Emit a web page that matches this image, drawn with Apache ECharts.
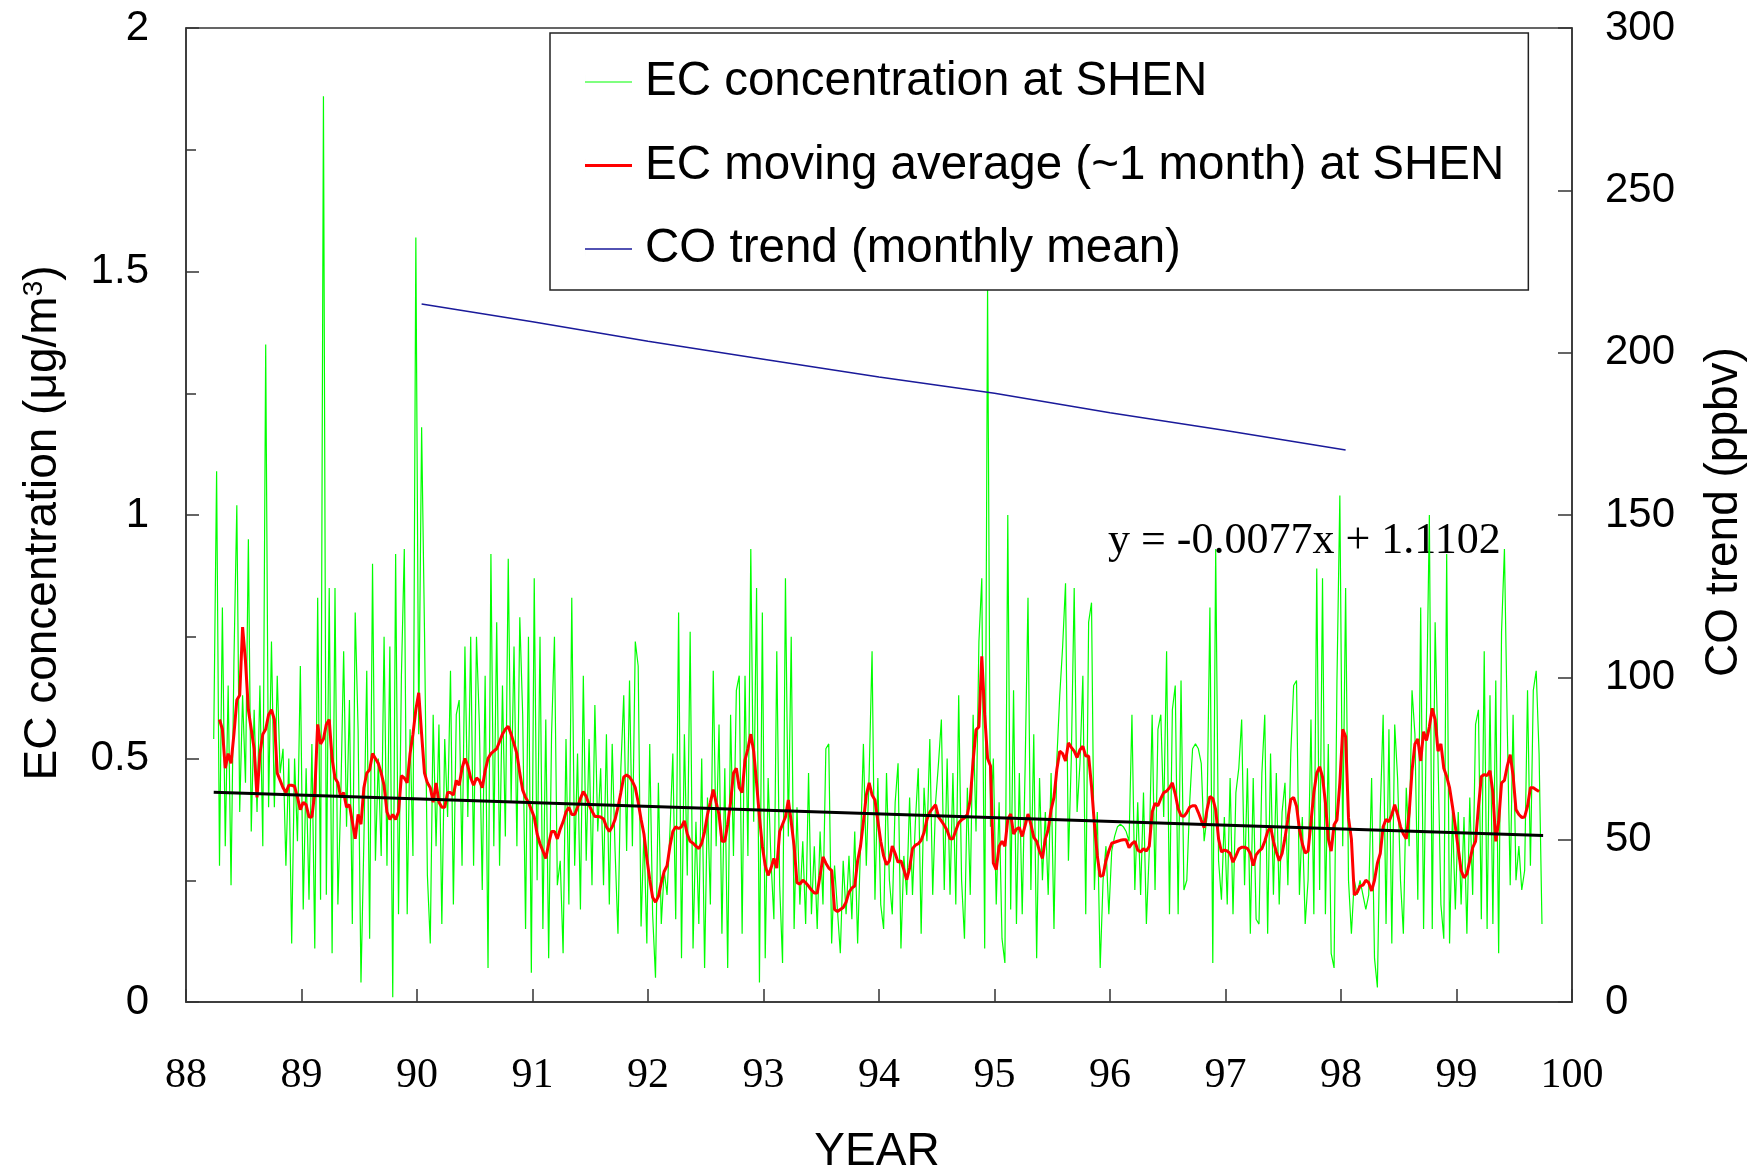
<!DOCTYPE html>
<html>
<head>
<meta charset="utf-8">
<script src="https://cdn.jsdelivr.net/npm/echarts@6/dist/echarts.min.js"></script>
<style>
  html, body { margin: 0; padding: 0; background: #fff; }
  #chart { width: 1763px; height: 1173px; }
</style>
</head>
<body>
<div id="chart"></div>
<script>
// EC samples at SHEN, one value every sampleStep years from ecStartYear (µg/m3)
const ecStartYear = 88.24;
const sampleStep = 0.025;
const ecConcentration = [
  0.54, 1.09, 0.28, 0.81, 0.32, 0.65, 0.24, 0.7, 1.02, 0.39,
  0.63, 0.45, 0.95, 0.35, 0.6, 0.39, 0.65, 0.32, 1.35, 0.4,
  0.74, 0.4, 0.67, 0.47, 0.52, 0.28, 0.5, 0.12, 0.5, 0.33,
  0.69, 0.19, 0.48, 0.21, 0.53, 0.11, 0.83, 0.21, 1.86, 0.22,
  0.85, 0.1, 0.85, 0.2, 0.42, 0.72, 0.36, 0.62, 0.16, 0.8,
  0.56, 0.04, 0.33, 0.68, 0.13, 0.9, 0.29, 0.5, 0.3, 0.75,
  0.28, 0.73, 0.01, 0.92, 0.18, 0.67, 0.93, 0.18, 0.56, 0.3,
  1.57, 0.55, 1.18, 0.76, 0.26, 0.12, 0.59, 0.32, 0.57, 0.16,
  0.54, 0.38, 0.68, 0.2, 0.59, 0.62, 0.28, 0.73, 0.38, 0.75,
  0.28, 0.75, 0.57, 0.23, 0.67, 0.07, 0.92, 0.32, 0.78, 0.28,
  0.65, 0.34, 0.91, 0.41, 0.73, 0.32, 0.79, 0.59, 0.15, 0.75,
  0.06, 0.87, 0.25, 0.75, 0.15, 0.58, 0.09, 0.55, 0.75, 0.24,
  0.29, 0.1, 0.54, 0.2, 0.83, 0.28, 0.51, 0.19, 0.67, 0.29,
  0.54, 0.24, 0.61, 0.35, 0.48, 0.24, 0.55, 0.2, 0.53, 0.31,
  0.14, 0.48, 0.63, 0.31, 0.66, 0.32, 0.74, 0.69, 0.155, 0.35,
  0.12, 0.53, 0.18, 0.05, 0.45, 0.16, 0.27, 0.22, 0.35, 0.51,
  0.17, 0.8, 0.09, 0.55, 0.26, 0.76, 0.11, 0.37, 0.16, 0.5,
  0.07, 0.42, 0.2, 0.68, 0.32, 0.57, 0.14, 0.48, 0.07, 0.59,
  0.3, 0.64, 0.67, 0.14, 0.67, 0.3, 0.93, 0.37, 0.85, 0.04,
  0.8, 0.09, 0.46, 0.29, 0.17, 0.72, 0.24, 0.08, 0.87, 0.34,
  0.75, 0.15, 0.4, 0.2, 0.33, 0.16, 0.47, 0.18, 0.32, 0.15,
  0.35, 0.2, 0.52, 0.53, 0.12, 0.28, 0.19, 0.1, 0.29, 0.18,
  0.3, 0.17, 0.35, 0.12, 0.32, 0.53, 0.28, 0.47, 0.72, 0.21,
  0.46, 0.2, 0.15, 0.47, 0.25, 0.18, 0.41, 0.49, 0.11, 0.3,
  0.22, 0.42, 0.22, 0.37, 0.48, 0.14, 0.44, 0.33, 0.54, 0.22,
  0.41, 0.49, 0.58, 0.23, 0.5, 0.22, 0.47, 0.2, 0.63, 0.25,
  0.13, 0.44, 0.22, 0.59, 0.35, 0.74, 0.87, 0.11, 1.47, 0.36,
  0.5, 0.2, 0.41, 0.13, 0.08, 1.0, 0.19, 0.64, 0.16, 0.47,
  0.18, 0.48, 0.83, 0.23, 0.55, 0.09, 0.46, 0.25, 0.39, 0.22,
  0.47, 0.15, 0.5, 0.63, 0.73, 0.86, 0.29, 0.5, 0.85, 0.39,
  0.49, 0.67, 0.18, 0.78, 0.82, 0.23, 0.39, 0.07, 0.25, 0.32,
  0.18, 0.31, 0.34, 0.36, 0.365, 0.36, 0.35, 0.33, 0.59, 0.23,
  0.41, 0.22, 0.43, 0.16, 0.31, 0.59, 0.23, 0.56, 0.59, 0.38,
  0.72, 0.18, 0.6, 0.65, 0.18, 0.66, 0.23, 0.25, 0.41, 0.52,
  0.53, 0.52, 0.49, 0.33, 0.38, 0.81, 0.08, 0.93, 0.29, 0.21,
  0.38, 0.2, 0.46, 0.18, 0.43, 0.48, 0.58, 0.24, 0.48, 0.14,
  0.46, 0.17, 0.16, 0.47, 0.59, 0.14, 0.51, 0.22, 0.47, 0.2,
  0.39, 0.45, 0.24, 0.51, 0.65, 0.66, 0.22, 0.38, 0.16, 0.25,
  0.58, 0.18, 0.89, 0.23, 0.87, 0.18, 0.53, 0.1, 0.07, 0.66,
  1.04, 0.32, 0.85, 0.25, 0.14, 0.25, 0.22, 0.25, 0.22, 0.19,
  0.22, 0.46, 0.09, 0.03, 0.39, 0.59, 0.16, 0.56, 0.12, 0.57,
  0.46, 0.25, 0.14, 0.44, 0.32, 0.64, 0.55, 0.21, 0.81, 0.15,
  0.59, 1.0, 0.15, 0.78, 0.5, 0.2, 0.13, 0.92, 0.12, 0.39,
  0.19, 0.39, 0.2, 0.38, 0.14, 0.42, 0.22, 0.57, 0.6, 0.17,
  0.72, 0.15, 0.63, 0.16, 0.66, 0.1, 0.76, 0.93, 0.56, 0.24,
  0.59, 0.25, 0.32, 0.23, 0.27, 0.64, 0.28, 0.64, 0.68, 0.51,
  0.16
];

// ~1 month moving average, same spacing, starting at maStartYear
const maStartYear = 88.29;
const ecMovingAverage = [
  0.58, 0.56, 0.48, 0.51, 0.49, 0.55, 0.62, 0.63, 0.77, 0.7,
  0.6, 0.56, 0.52, 0.42, 0.51, 0.55, 0.56, 0.59, 0.6, 0.58,
  0.47, 0.455, 0.44, 0.43, 0.445, 0.445, 0.443, 0.42, 0.395, 0.41,
  0.405, 0.38, 0.38, 0.43, 0.57, 0.53, 0.54, 0.57, 0.58, 0.5,
  0.46, 0.45, 0.42, 0.43, 0.4, 0.405, 0.37, 0.335, 0.385, 0.365,
  0.44, 0.47, 0.477, 0.51, 0.5, 0.49, 0.47, 0.445, 0.39, 0.375,
  0.385, 0.375, 0.39, 0.465, 0.46, 0.45, 0.51, 0.55, 0.6, 0.635,
  0.55, 0.47, 0.45, 0.44, 0.41, 0.45, 0.41, 0.4, 0.4, 0.43,
  0.43, 0.425, 0.455, 0.445, 0.48, 0.5, 0.485, 0.46, 0.445, 0.46,
  0.455, 0.44, 0.475, 0.5, 0.51, 0.515, 0.52, 0.535, 0.55, 0.56,
  0.566, 0.55, 0.53, 0.51, 0.47, 0.435, 0.42, 0.41, 0.395, 0.38,
  0.345, 0.325, 0.31, 0.295, 0.325, 0.35, 0.35, 0.335, 0.355, 0.37,
  0.39, 0.4, 0.385, 0.385, 0.4, 0.418, 0.432, 0.422, 0.405, 0.392,
  0.381, 0.381, 0.38, 0.376, 0.36, 0.35, 0.36, 0.375, 0.4, 0.43,
  0.462, 0.466, 0.462, 0.453, 0.44, 0.41, 0.375, 0.345, 0.295, 0.252,
  0.215, 0.205, 0.217, 0.245, 0.268, 0.28, 0.32, 0.35, 0.36, 0.356,
  0.36, 0.372, 0.345, 0.33, 0.326, 0.32, 0.315, 0.326, 0.35, 0.385,
  0.41, 0.436, 0.41, 0.385, 0.33, 0.33, 0.365, 0.41, 0.47, 0.48,
  0.44, 0.43, 0.497, 0.52, 0.55, 0.515, 0.45, 0.38, 0.32, 0.28,
  0.26, 0.275, 0.295, 0.275, 0.35, 0.365, 0.38, 0.415, 0.37, 0.32,
  0.245, 0.242, 0.25, 0.245, 0.238, 0.23, 0.224, 0.224, 0.26, 0.298,
  0.285, 0.275, 0.27, 0.19, 0.186, 0.19, 0.194, 0.205, 0.225, 0.234,
  0.238, 0.29, 0.32, 0.37, 0.425, 0.45, 0.425, 0.415, 0.372, 0.33,
  0.3, 0.282, 0.29, 0.32, 0.305, 0.287, 0.29, 0.272, 0.251, 0.275,
  0.315, 0.322, 0.325, 0.332, 0.348, 0.375, 0.39, 0.398, 0.405, 0.38,
  0.372, 0.363, 0.352, 0.335, 0.335, 0.352, 0.368, 0.374, 0.378, 0.385,
  0.415, 0.495, 0.559, 0.565, 0.71, 0.59, 0.5, 0.485, 0.285, 0.272,
  0.32, 0.33, 0.32, 0.375, 0.386, 0.345, 0.355, 0.358, 0.34, 0.362,
  0.386, 0.365, 0.338, 0.33, 0.31, 0.295, 0.335, 0.354, 0.395, 0.42,
  0.478, 0.515, 0.51, 0.495, 0.532, 0.523, 0.515, 0.502, 0.518, 0.525,
  0.505, 0.505, 0.443, 0.365, 0.3, 0.258, 0.26, 0.29, 0.31, 0.326,
  0.328, 0.33, 0.332, 0.333, 0.333, 0.317, 0.325, 0.33, 0.312, 0.308,
  0.315, 0.31, 0.32, 0.39, 0.408, 0.403, 0.418, 0.43, 0.433, 0.44,
  0.45, 0.427, 0.397, 0.383, 0.381, 0.389, 0.4, 0.403, 0.403, 0.389,
  0.373, 0.358, 0.395, 0.422, 0.418, 0.395, 0.335, 0.308, 0.312, 0.31,
  0.305, 0.287, 0.3, 0.314, 0.318, 0.318, 0.315, 0.305, 0.28, 0.302,
  0.31, 0.315, 0.33, 0.35, 0.36, 0.33, 0.308, 0.29, 0.305, 0.337,
  0.375, 0.416, 0.42, 0.402, 0.355, 0.325, 0.306, 0.31, 0.37, 0.43,
  0.47, 0.483, 0.462, 0.41, 0.335, 0.31, 0.364, 0.374, 0.45, 0.56,
  0.545, 0.378, 0.335, 0.22, 0.225, 0.238, 0.24, 0.25, 0.245, 0.228,
  0.25, 0.285, 0.305, 0.36, 0.375, 0.37, 0.385, 0.405, 0.385, 0.36,
  0.345, 0.335, 0.388, 0.475, 0.53, 0.54, 0.495, 0.555, 0.537, 0.565,
  0.603, 0.58, 0.515, 0.53, 0.48, 0.463, 0.44, 0.402, 0.36, 0.315,
  0.27, 0.255, 0.263, 0.29, 0.317, 0.33, 0.4, 0.463, 0.467, 0.465,
  0.475, 0.43, 0.33, 0.37, 0.45, 0.455, 0.485, 0.508, 0.465, 0.395,
  0.385, 0.379, 0.38, 0.402, 0.44, 0.44, 0.436, 0.432
];

// CO trend (ppbv) on the right axis
const coYears  = [90.04, 91, 92, 93, 94, 95, 96, 97, 98.04];
const coValues = [215, 209.5, 203.5, 198, 192.5, 187.5, 181.5, 176, 170];

// Linear fit of EC against year
const trendSlope = -0.0077;
const trendIntercept = 1.1102;
const trendYears = [88.24, 99.75];

// Axis ticks
const yearTicks = [88, 89, 90, 91, 92, 93, 94, 95, 96, 97, 98, 99, 100];

const seriesNames = [
  'EC concentration at SHEN',
  'EC moving average (~1 month) at SHEN',
  'CO trend (monthly mean)'
];

const SANS = "'Liberation Sans', Arial, Helvetica, sans-serif";
const SERIF = "'Liberation Serif', 'Times New Roman', serif";
const AXIS_COLOR = '#333';
const GREEN = '#00ff00';
const RED = '#ff0000';
const BLUE = '#1a1a9a';

// Legend keys: a plain horizontal stroke of the series' line width,
// centred in a 47 x 14 box (the hair-thin left sliver only fixes the box size)
function strokeIcon(width) {
  const top = 7 - width / 2;
  return 'path://M0,0h0.01v14h-0.01z M0,' + top + 'h47v' + width + 'h-47z';
}

const ecData = ecConcentration.map((v, i) => [ecStartYear + i * sampleStep, v]);
const maData = ecMovingAverage.map((v, i) => [maStartYear + i * sampleStep, v]);
const coData = coYears.map((y, i) => [y, coValues[i]]);
const trendData = trendYears.map(y => [y, trendSlope * y + trendIntercept]);
const trendLabel = 'y = ' + trendSlope + 'x + ' + trendIntercept;

const chart = echarts.init(document.getElementById('chart'), null, { renderer: 'canvas' });

chart.setOption({
  animation: false,
  backgroundColor: '#fff',
  grid: {
    left: 186, right: 191, top: 28, bottom: 171,
    show: true, borderColor: AXIS_COLOR, borderWidth: 1.5, backgroundColor: 'transparent'
  },
  legend: {
    data: [
      { name: seriesNames[0], icon: strokeIcon(1.2) },
      { name: seriesNames[1], icon: strokeIcon(3) },
      { name: seriesNames[2], icon: strokeIcon(1.5) }
    ],
    orient: 'vertical',
    left: 550, top: 33,
    padding: [25, 24, 17, 35],
    itemGap: 35.5,
    itemWidth: 47,
    itemHeight: 14,
    symbolKeepAspect: false,
    backgroundColor: '#fff',
    borderColor: '#222',
    borderWidth: 1.5,
    borderRadius: 0,
    textStyle: { fontFamily: SANS, fontSize: 47.5, color: '#000', padding: [0, 0, 0, 8] }
  },
  xAxis: {
    type: 'value',
    min: yearTicks[0], max: yearTicks[yearTicks.length - 1], interval: 1,
    axisLine: { show: true, lineStyle: { color: AXIS_COLOR, width: 1.5 } },
    axisTick: { show: true, inside: true, length: 13, lineStyle: { color: AXIS_COLOR, width: 1.5 } },
    axisLabel: { fontFamily: SERIF, fontSize: 42, color: '#000', margin: 53 },
    splitLine: { show: false }
  },
  yAxis: [
    {
      type: 'value', min: 0, max: 2, interval: 0.5,
      axisLine: { show: true, lineStyle: { color: AXIS_COLOR, width: 1.5 } },
      axisTick: { show: true, inside: true, length: 13, lineStyle: { color: AXIS_COLOR, width: 1.5 } },
      minorTick: { show: true, splitNumber: 2, length: 10, lineStyle: { color: AXIS_COLOR, width: 1.5 } },
      axisLabel: { fontFamily: SANS, fontSize: 42, color: '#000', margin: 37 },
      splitLine: { show: false }
    },
    {
      type: 'value', min: 0, max: 300, interval: 50, position: 'right',
      axisLine: { show: true, lineStyle: { color: AXIS_COLOR, width: 1.5 } },
      axisTick: { show: true, inside: true, length: 14, lineStyle: { color: AXIS_COLOR, width: 1.5 } },
      axisLabel: { fontFamily: SANS, fontSize: 42, color: '#000', margin: 33 },
      splitLine: { show: false }
    }
  ],
  series: [
    {
      name: seriesNames[0], type: 'line', data: ecData,
      symbol: 'none', showSymbol: false, z: 2,
      lineStyle: { color: GREEN, width: 1.2 }, itemStyle: { color: GREEN }
    },
    {
      name: seriesNames[1], type: 'line', data: maData,
      symbol: 'none', showSymbol: false, z: 3,
      lineStyle: { color: RED, width: 3 }, itemStyle: { color: RED }
    },
    {
      name: seriesNames[2], type: 'line', data: coData, yAxisIndex: 1,
      symbol: 'none', showSymbol: false, z: 3,
      lineStyle: { color: BLUE, width: 1.5 }, itemStyle: { color: BLUE }
    },
    {
      name: 'trend', type: 'line', data: trendData,
      symbol: 'none', showSymbol: false, z: 4,
      lineStyle: { color: '#000', width: 3 }, itemStyle: { color: '#000' }
    }
  ],
  graphic: [
    {
      type: 'text', x: 43, y: 523, rotation: Math.PI / 2,
      style: {
        text: 'EC concentration (μg/m{sup|3})',
        font: '46px ' + SANS, fill: '#000',
        align: 'center', verticalAlign: 'middle',
        textAlign: 'center', textVerticalAlign: 'middle',
        rich: { sup: { fontSize: 28, fontFamily: SANS, verticalAlign: 'top', lineHeight: 28 } }
      }
    },
    {
      type: 'text', x: 1724, y: 512, rotation: Math.PI / 2,
      style: {
        text: 'CO trend (ppbv)', font: '46px ' + SANS, fill: '#000',
        align: 'center', verticalAlign: 'middle',
        textAlign: 'center', textVerticalAlign: 'middle'
      }
    },
    {
      type: 'text', x: 877, y: 1152,
      style: {
        text: 'YEAR', font: '46px ' + SANS, fill: '#000',
        align: 'center', verticalAlign: 'middle',
        textAlign: 'center', textVerticalAlign: 'middle'
      }
    },
    {
      type: 'text', x: 1108, y: 541,
      style: {
        text: trendLabel, font: '44px ' + SERIF, fill: '#000',
        align: 'left', verticalAlign: 'middle',
        textAlign: 'left', textVerticalAlign: 'middle'
      }
    }
  ]
});
</script>
</body>
</html>
